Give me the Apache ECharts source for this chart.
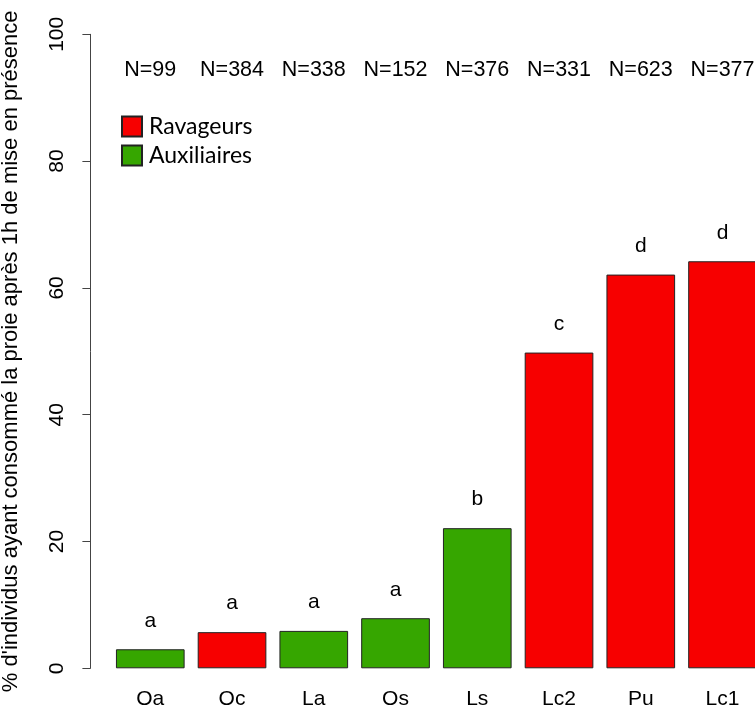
<!DOCTYPE html>
<html>
<head>
<meta charset="utf-8">
<script src="https://cdn.jsdelivr.net/npm/echarts@6/dist/echarts.min.js"></script>
<style>
* { margin: 0; padding: 0; }
html, body { background: #fff; }
</style>
</head>
<body>
<div id="main" style="width: 755px;height: 706px;"></div>
<script>
// species, group, % consumed, letters, sample sizes
var especes = ['Oa', 'Oc', 'La', 'Os', 'Ls', 'Lc2', 'Pu', 'Lc1'];
var ravageurs = ['-', 5.7, '-', '-', '-', 49.8, 62.1, 64.2];
var auxiliaires = [3.0, '-', 5.9, 7.9, 22.1, '-', '-', '-'];
var lettres = ['a', 'a', 'a', 'a', 'b', 'c', 'd', 'd'];
var effectifs = ['N=99', 'N=384', 'N=338', 'N=152', 'N=376', 'N=331', 'N=623', 'N=377'];
var yTicks = [0, 20, 40, 60, 80, 100];

var rouge = '#f70000';
var vert = '#36a600';
var police = 'Liberation Sans, Arial, sans-serif';

var chart = echarts.init(document.getElementById('main'));

function lettre(p) { return lettres[p.dataIndex]; }

var barLabel = {
  show: true,
  position: 'top',
  distance: 18,
  formatter: lettre,
  fontFamily: police,
  fontSize: 21,
  color: '#000'
};

chart.setOption({
  animation: false,
  legend: {
    orient: 'vertical',
    left: 116,
    top: 110,
    itemWidth: 20,
    itemHeight: 20,
    itemGap: 6,
    icon: 'rect',
    data: ['Ravageurs', 'Auxiliaires'],
    textStyle: { fontFamily: 'Lato, sans-serif', fontSize: 23, color: '#000', padding: [0, 0, 0, 2] }
  },
  grid: {
    left: 109.4,
    right: -8.4,
    top: 34.3,
    bottom: 37.7,
    outerBoundsMode: 'none'
  },
  xAxis: [{
    type: 'category',
    data: especes,
    axisLine: { show: false },
    axisTick: { show: false },
    axisLabel: { interval: 0, margin: 20, fontFamily: police, fontSize: 21, color: '#000' }
  }, {
    type: 'category',
    position: 'top',
    data: effectifs,
    axisLine: { show: false },
    axisTick: { show: false },
    axisLabel: { interval: 0, hideOverlap: false, inside: true, margin: 25, fontFamily: police, fontSize: 21.5, color: '#000' }
  }],
  yAxis: {
    type: 'value',
    min: 0,
    max: 100,
    interval: 20,
    offset: 19,
    name: "% d'individus ayant consommé la proie après 1h de mise en présence",
    nameLocation: 'middle',
    nameRotate: 90,
    nameGap: 68,
    nameTextStyle: { fontFamily: police, fontSize: 22, color: '#000' },
    axisLine: { show: true, lineStyle: { color: '#444', width: 1 } },
    axisTick: { show: true, length: 8, lineStyle: { color: '#444' } },
    axisLabel: {
      rotate: 90,
      margin: 23,
      fontFamily: police,
      fontSize: 21,
      color: '#000',
      formatter: function (v) { return yTicks.indexOf(v) >= 0 ? String(v) : ''; }
    },
    splitLine: { show: false }
  },
  series: [{
    name: 'Ravageurs',
    type: 'bar',
    stack: 'groupe',
    barCategoryGap: '16%',
    data: ravageurs,
    itemStyle: { color: rouge, borderColor: '#222', borderWidth: 1 },
    label: barLabel
  }, {
    name: 'Auxiliaires',
    type: 'bar',
    stack: 'groupe',
    barCategoryGap: '16%',
    data: auxiliaires,
    itemStyle: { color: vert, borderColor: '#222', borderWidth: 1 },
    label: barLabel
  }]
});
</script>
</body>
</html>
